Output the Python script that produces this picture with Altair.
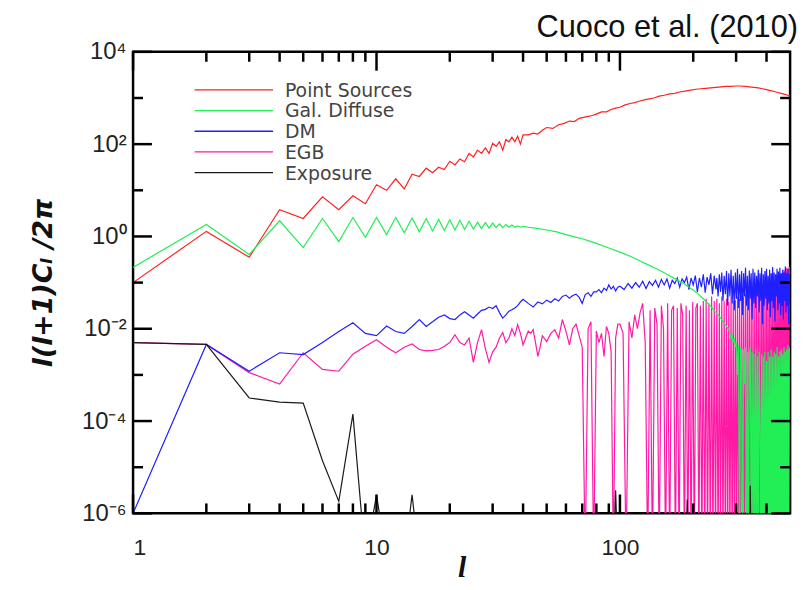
import altair as alt
import pandas as pd
import math

# ---------------- data (values stored as log10 of l(l+1)C_l/2pi) ----------------
series_names = ["Point Sources", "Gal. Diffuse", "DM", "EGB", "Exposure"]
series_colors = ["#ff2020", "#22ee55", "#1f1fff", "#ff1aa6", "#1a1a1a"]

# Point Sources
ps_l = list(range(1, 41)) + [42, 44, 46, 48, 50, 53, 56, 59, 62, 65, 68, 71, 74, 77, 80,
        84, 88, 92, 96, 100, 105, 110, 115, 120, 126, 132, 138, 145, 152, 160,
        168, 176, 185, 195, 205, 215, 225, 236, 248, 260, 272, 285, 298, 312, 326,
        340, 355, 370, 385, 400, 415, 430, 445, 460, 475, 490, 500]
ps_log = [-1.0, 0.11, -0.45, 0.58, 0.39, 0.86, 0.58, 0.88, 0.71, 1.12,
          1.0, 1.25, 1.03, 1.35, 1.3, 1.48, 1.38, 1.5, 1.45, 1.63,
          1.55, 1.68, 1.62, 1.8, 1.72, 1.87, 1.8, 1.92, 1.8, 2.02,
          1.95, 2.05, 1.87, 2.1, 2.05, 2.15, 2.05, 2.17, 2.0, 2.2,
          2.2, 2.24, 2.22, 2.3, 2.36, 2.34, 2.42, 2.45, 2.5, 2.49,
          2.56, 2.58, 2.6, 2.62, 2.65, 2.7, 2.7, 2.75, 2.78, 2.8,
          2.85, 2.88, 2.9, 2.93, 2.96, 2.98, 3.0, 3.04, 3.06, 3.09,
          3.1, 3.13, 3.15, 3.17, 3.19, 3.2, 3.21, 3.22, 3.23, 3.24,
          3.25, 3.25, 3.26, 3.26, 3.25, 3.24, 3.23, 3.22, 3.2, 3.18,
          3.16, 3.14, 3.12, 3.1, 3.08, 3.06, 3.04]

# Galactic diffuse
gd_l = list(range(1, 41)) + [42, 45, 50, 55, 60, 65, 70, 75, 80, 90, 100, 110, 120, 130,
        140, 150, 160, 170, 180, 190, 200, 210, 220, 230, 240, 250, 260, 270, 280] \
       + list(range(283, 500, 3))
gd_log = [-0.67, 0.26, -0.39, 0.34, -0.24, 0.39, -0.11, 0.41, -0.02, 0.41,
          0.04, 0.41, 0.08, 0.40, 0.10, 0.39, 0.12, 0.37, 0.13, 0.36,
          0.14, 0.35, 0.15, 0.33, 0.16, 0.31, 0.17, 0.30, 0.18, 0.29,
          0.19, 0.27, 0.19, 0.26, 0.20, 0.25, 0.20, 0.23, 0.20, 0.22,
          0.2, 0.18, 0.14, 0.1, 0.04, -0.01, -0.05, -0.1, -0.15, -0.25,
          -0.34, -0.43, -0.52, -0.61, -0.69, -0.77, -0.85, -0.93, -1.0, -1.08,
          -1.16, -1.25, -1.35, -1.45, -1.56, -1.67, -1.78, -1.9, -2.02,
          -2.1, -2.2, -2.15, -2.3, -2.2, -2.4, -2.3, -3.0, -2.35, -7,
          -2.4, -2.5, -7, -2.45, -3.2, -2.4, -7, -2.5, -7, -2.6,
          -2.4, -7, -2.5, -7, -2.55, -7, -2.45, -7, -2.6, -7,
          -2.5, -4.0, -7, -2.55, -7, -2.6, -7, -2.5, -7, -2.7,
          -7, -2.5, -7, -2.6, -7, -2.45, -7, -2.6, -7, -2.5,
          -7, -2.55, -7, -2.4, -7, -2.6, -7, -2.5, -7, -2.45,
          -7, -2.55, -7, -2.4, -7, -2.5, -7, -2.45, -7, -2.35,
          -7, -2.5, -2.4]

# Dark matter
dm_l = list(range(1, 41)) + list(range(42, 100, 2)) + list(range(100, 250, 4)) \
       + list(range(250, 500, 3))
dm_log = [-6.0, -2.34, -2.92, -2.52, -2.56, -2.3, -2.06, -1.87, -2.1, -2.15,
          -1.94, -2.06, -2.1, -1.95, -1.8, -1.95, -1.85, -1.75, -1.7, -1.78,
          -1.8, -1.7, -1.63, -1.7, -1.77, -1.68, -1.6, -1.58, -1.53, -1.56,
          -1.5, -1.65, -1.77, -1.7, -1.62, -1.59, -1.55, -1.5, -1.42, -1.36,
          -1.45, -1.53, -1.42, -1.46, -1.38, -1.43, -1.35, -1.4, -1.3, -1.27,
          -1.34, -1.28, -1.25, -1.32, -1.45, -1.26, -1.22, -1.3, -1.2, -1.2,
          -1.15, -1.22, -1.12, -1.17, -1.05, -1.14, -1.08, -1.18, -1.1,
          -1.08, -1.15, -1.02, -1.12, -1.0, -1.1, -0.97, -1.13, -0.98, -1.06,
          -0.95, -1.1, -0.93, -1.05, -0.92, -1.12, -0.95, -1.02, -0.9, -1.1,
          -0.92, -1.0, -0.88, -1.15, -0.9, -1.05, -0.85, -1.2, -0.9, -1.1,
          -0.82, -1.22, -0.88, -1.05, -0.8, -1.25, -0.85, -1.15,
          -0.9, -1.3, -0.82, -1.2, -0.78, -1.4, -0.85, -1.25, -0.75, -1.5,
          -0.8, -1.3, -0.72, -1.45, -0.85, -1.6, -0.78, -1.35, -0.7, -1.55,
          -0.82, -1.4, -0.75, -1.7, -0.8, -1.3, -0.68, -1.5, -0.85, -1.6,
          -0.74, -1.35, -0.8, -1.8, -0.7, -1.45, -0.78, -1.55, -0.85, -1.3,
          -0.72, -1.65, -0.8, -1.4, -0.68, -1.9, -0.82, -1.5, -0.75, -1.35,
          -0.7, -1.6, -0.85, -1.45, -0.72, -1.75, -0.8, -1.4, -0.66, -1.55,
          -0.78, -1.85, -0.82, -1.3, -0.7, -1.6, -0.76, -1.45, -0.68, -1.7,
          -0.8, -1.5, -0.72, -1.8, -0.78, -1.4, -0.65, -1.65, -0.8, -1.5,
          -0.7, -1.9, -0.82, -1.45]

# Extragalactic background
egb_l = list(range(1, 49)) + list(range(50, 100, 2)) + list(range(100, 500, 3))
egb_log = [-2.3, -2.34, -2.95, -3.2, -2.52, -2.88, -2.92, -2.55, -2.38, -2.24,
           -2.4, -2.52, -2.4, -2.33, -2.45, -2.48, -2.47, -2.45, -2.38, -2.3,
           -2.13, -2.3, -2.35, -2.2, -2.73, -2.3, -2.02, -2.43, -2.73, -2.5,
           -2.4, -2.2, -2.08, -2.3, -2.2, -2.0, -2.15, -1.91, -2.1, -2.35,
           -2.2, -2.05, -2.1, -2.02, -2.3, -2.6, -2.4, -2.15,
           -2.28, -2.1, -2.02, -2.2, -1.8, -2.05, -2.35, -2.0, -1.9, -2.15,
           -2.4, -7, -2.0, -1.85, -7, -2.05, -2.3, -2.1, -2.6, -1.95,
           -2.1, -2.5, -7, -2.2, -1.9,
           -1.9, -2.1, -7, -1.85, -2.2, -1.7, -2.0, -1.65, -1.45, -2.3,
           -7, -1.6, -7, -1.55, -1.9, -7, -1.5, -2.0, -7, -1.45,
           -7, -1.6, -1.5, -7, -1.55, -7, -1.45, -1.7, -7, -1.5,
           -7, -1.6, -7, -1.42, -7, -1.55, -1.45, -7, -1.5, -7,
           -1.4, -7, -1.35, -7, -1.45, -7, -1.3, -7, -1.4, -7,
           -1.35, -7, -1.45, -7, -1.3, -7, -1.4, -7, -1.35, -7,
           -1.42, -7, -1.3, -7, -1.4, -7, -1.38, -7, -1.3, -7,
           -1.35, -7, -1.28, -7, -1.32, -7, -1.25, -7, -1.3, -7,
           -1.22, -7, -1.28, -7, -1.2, -7, -1.25, -7, -1.18, -7,
           -1.22, -7, -1.15, -7, -1.2, -7, -1.12, -7, -1.18, -7,
           -1.1, -7, -1.15, -7, -1.05, -7, -1.1, -7, -1.0, -7,
           -1.05, -7, -0.95, -7, -1.0, -7, -0.9, -7, -0.85, -7,
           -0.8, -7, -0.78, -7, -0.72, -7, -0.75, -7, -0.68, -7,
           -0.7, -7, -0.66, -0.7]

# Exposure
ex_l = [1, 2, 3, 4, 5, 6, 7, 8, 9, 10, 11, 13, 14, 15, 94, 96, 98,
        186, 189, 192, 340, 343, 346, 500]
ex_log = [-2.3, -2.34, -3.5, -3.59, -3.61, -4.86, -5.74, -3.85, -7, -5.6, -7,
          -7, -5.6, -7, -7, -5.5, -7, -7, -5.7, -7, -7, -5.4, -7, -7]

# axis ticks
y_major = [1e-6, 1e-4, 1e-2, 1e0, 1e2, 1e4]
y_major_labels = ["10⁻⁶", "10⁻⁴", "10⁻²", "10⁰", "10²", "10⁴"]
y_minor = [1e-5, 1e-3, 1e-1, 1e1, 1e3]
x_major = [1, 10, 100]
x_minor = [2, 3, 4, 5, 6, 7, 8, 9, 20, 30, 40, 50, 60, 70, 80, 90, 200, 300, 400]

all_l = [ps_l, gd_l, dm_l, egb_l, ex_l]
all_log = [ps_log, gd_log, dm_log, egb_log, ex_log]
for a, b in zip(all_l, all_log):
    assert len(a) == len(b), (len(a), len(b))

rows = []
for name, ls, vs in zip(series_names, all_l, all_log):
    for l, e in zip(ls, vs):
        rows.append({"series": name, "l": l, "v": 10.0 ** e})
df = pd.DataFrame(rows)

# ---------------- chart ----------------
W, H = 662, 465
xscale = alt.Scale(type="log", domain=[1, 500])
yscale = alt.Scale(type="log", domain=[1e-6, 1e4])
cscale = alt.Scale(domain=series_names, range=series_colors)

ex = "round(log(datum.value)/LN10)"
label_expr = " : ".join(
    f"{ex} == {round(math.log10(v))} ? '{t}'" for v, t in zip(y_major, y_major_labels)
) + " : ''"

x_axis = alt.Axis(values=x_major, labelExpr="format(datum.value, 'd')", title="l",
                  labelFontSize=23, labelPadding=23, titleFontSize=30,
                  titleFont="Liberation Serif", titleFontStyle="italic",
                  titleFontWeight="bold", titlePadding=-6)
y_axis = alt.Axis(values=y_major, labelExpr=label_expr, title="l(l+1)Cₗ /2π",
                  labelFontSize=24, labelPadding=7, titleFontSize=27,
                  titleFont="DejaVu Sans", titleFontStyle="italic",
                  titleFontWeight="bold", titlePadding=24)

X = lambda f: alt.X(f, scale=xscale, axis=x_axis)
Y = lambda f: alt.Y(f, scale=yscale, axis=y_axis)

layers = []
order = ["Point Sources", "EGB", "DM", "Gal. Diffuse", "Exposure"]
for name in order:
    layers.append(
        alt.Chart(df).transform_filter(alt.datum.series == name)
        .mark_line(clip=True, strokeWidth=1.2)
        .encode(x=X("l:Q"), y=Y("v:Q"),
                color=alt.Color("series:N", scale=cscale, legend=None))
    )

def yticks(vals, length):
    d = pd.DataFrame({"v": vals})
    left = alt.Chart(d).mark_rule(color="black", strokeWidth=2.5).encode(
        y=Y("v:Q"), x=alt.value(0), x2=alt.value(length))
    right = alt.Chart(d).mark_rule(color="black", strokeWidth=2.5).encode(
        y=Y("v:Q"), x=alt.value(W - length), x2=alt.value(W))
    return [left, right]

def xticks(vals, length):
    d = pd.DataFrame({"l": vals})
    bottom = alt.Chart(d).mark_rule(color="black", strokeWidth=2.5).encode(
        x=X("l:Q"), y=alt.value(H), y2=alt.value(H - length))
    top = alt.Chart(d).mark_rule(color="black", strokeWidth=2.5).encode(
        x=X("l:Q"), y=alt.value(0), y2=alt.value(length))
    return [bottom, top]

layers += yticks(y_major, 19) + yticks(y_minor, 10)
layers += xticks(x_major, 19) + xticks(x_minor, 10)

# legend (inside, upper left)
for i, (name, col) in enumerate(zip(series_names, series_colors)):
    d = pd.DataFrame({"name": [name]})
    yy = 38.3 + i * 20.85
    layers.append(alt.Chart(d).mark_rule(color=col, strokeWidth=1.3).encode(
        x=alt.value(62), x2=alt.value(141), y=alt.value(yy)))
    layers.append(alt.Chart(d).mark_text(align="left", baseline="middle", fontSize=19,
                                         font="DejaVu Sans", color="#444").encode(
        x=alt.value(153), y=alt.value(yy + 1), text="name:N"))

chart = alt.layer(*layers).properties(
    width=W, height=H,
    title=alt.TitleParams("Cuoco et al. (2010)", anchor="end", frame="group",
                          fontSize=31, font="Liberation Sans", fontWeight="normal",
                          color="#111", offset=3, dx=8, dy=7),
    autosize=alt.AutoSizeParams(type="none"),
    padding={"left": 126, "top": 42, "right": 14, "bottom": 70},
).configure_view(stroke="black", strokeWidth=2.5).configure_axis(
    domain=False, ticks=False, tickSize=0, grid=False,
    labelFont="Liberation Sans", labelColor="#222", titleColor="#111",
)

chart.save("out.html", embed_options={"renderer": "svg", "actions": False})
